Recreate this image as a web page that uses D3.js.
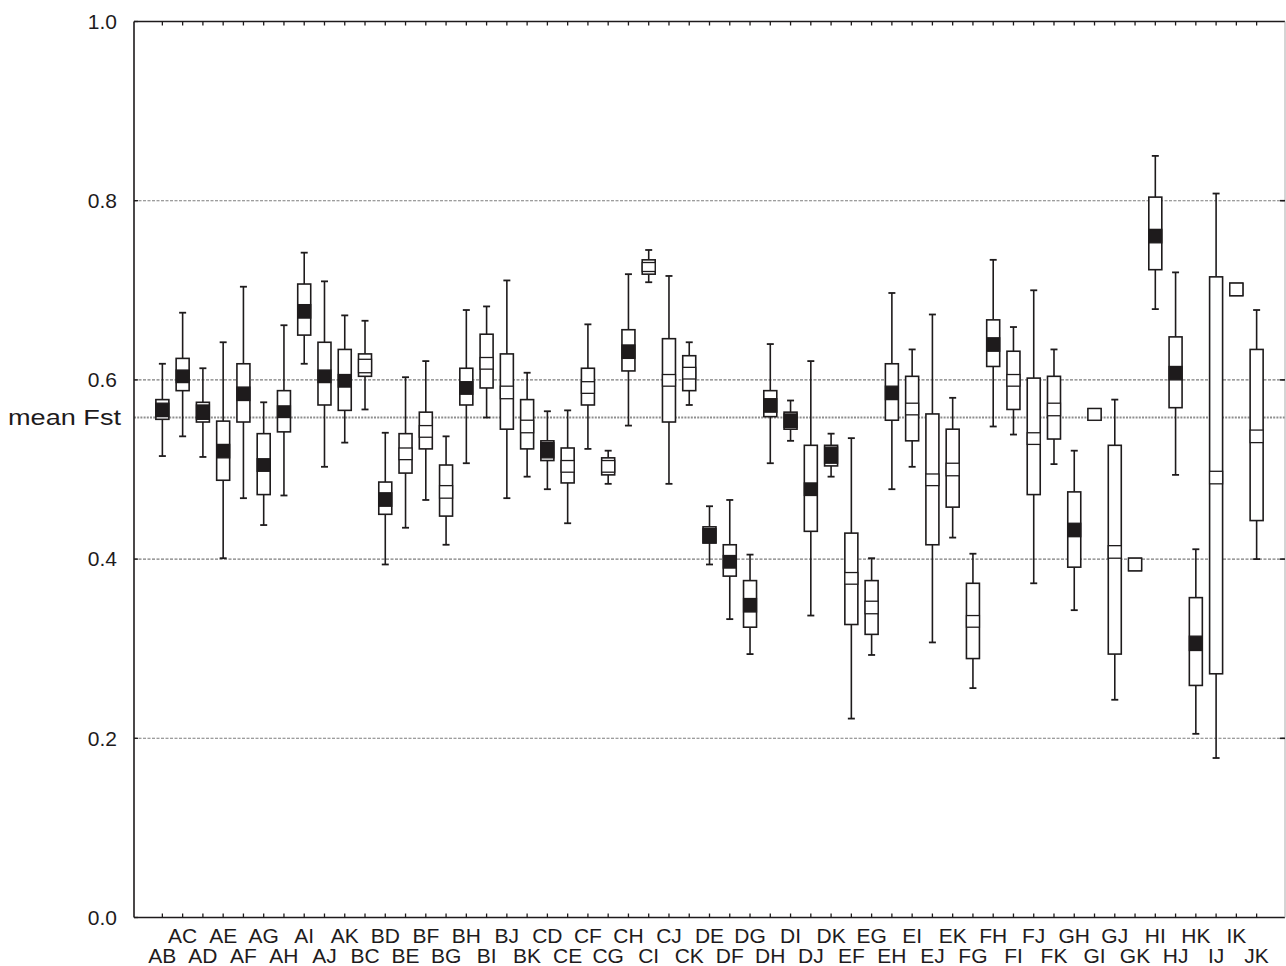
<!DOCTYPE html>
<html>
<head>
<meta charset="utf-8">
<script src="https://cdn.jsdelivr.net/npm/d3@7"></script>
<style>
  body { margin: 0; background: #fff; }
  svg { display: block; }
</style>
</head>
<body>
<script>
// pairwise comparisons of populations A..K
var pairs = ['AB','AC','AD','AE','AF','AG','AH','AI','AJ','AK',
             'BC','BD','BE','BF','BG','BH','BI','BJ','BK',
             'CD','CE','CF','CG','CH','CI','CJ','CK',
             'DE','DF','DG','DH','DI','DJ','DK',
             'EF','EG','EH','EI','EJ','EK',
             'FG','FH','FI','FJ','FK',
             'GH','GI','GJ','GK',
             'HI','HJ','HK',
             'IJ','IK',
             'JK'];

var whisker_high = [.618,.675,.613,.642,.704,.575,.661,.742,.710,.672,
                    .666,.541,.603,.621,.537,.678,.682,.711,.608,
                    .565,.566,.662,.521,.718,.745,.716,.642,
                    .459,.466,.405,.640,.577,.621,.540,
                    .535,.401,.697,.634,.673,.580,
                    .406,.734,.659,.700,.634,
                    .521,.568,.578,.401,
                    .850,.720,.411,
                    .808,.708,
                    .678];
var box_high = [.578,.624,.575,.554,.618,.540,.588,.707,.642,.634,
                .629,.486,.540,.564,.505,.613,.651,.629,.578,
                .532,.524,.613,.513,.656,.734,.646,.627,
                .436,.416,.376,.588,.564,.527,.527,
                .429,.376,.618,.604,.562,.545,
                .373,.667,.632,.602,.604,
                .475,.568,.527,.401,
                .804,.648,.357,
                .715,.708,
                .634];
var inner_high = [.574,.611,.572,.528,.592,.512,.571,.684,.611,.606,
                  .623,.474,.524,.549,.482,.598,.625,.593,.555,
                  .530,.510,.598,.510,.639,.731,.606,.614,
                  .434,.404,.356,.579,.562,.485,.525,
                  .385,.353,.593,.574,.495,.507,
                  .337,.647,.606,.541,.574,
                  .440,.568,.415,.401,
                  .768,.615,.314,
                  .498,.708,
                  .544];
var inner_low = [.559,.597,.556,.513,.577,.498,.558,.669,.597,.592,
                 .608,.459,.511,.536,.468,.584,.612,.579,.541,
                 .513,.497,.585,.497,.624,.721,.593,.601,
                 .418,.390,.341,.564,.547,.471,.507,
                 .372,.339,.578,.561,.482,.493,
                 .324,.632,.593,.528,.560,
                 .425,.555,.401,.387,
                 .753,.600,.298,
                 .484,.694,
                 .530];
var box_low = [.556,.588,.553,.488,.553,.472,.542,.650,.572,.566,
               .604,.450,.496,.523,.448,.572,.591,.545,.523,
               .510,.485,.572,.494,.610,.718,.553,.588,
               .418,.381,.324,.559,.545,.431,.504,
               .327,.316,.555,.532,.416,.458,
               .289,.615,.567,.472,.534,
               .391,.555,.294,.387,
               .723,.569,.259,
               .272,.694,
               .443];
var whisker_low = [.515,.537,.514,.401,.468,.438,.471,.618,.503,.530,
                   .567,.394,.435,.466,.416,.507,.558,.468,.492,
                   .478,.440,.523,.484,.549,.709,.484,.572,
                   .394,.333,.294,.507,.532,.337,.492,
                   .222,.293,.478,.503,.307,.424,
                   .256,.548,.539,.373,.506,
                   .343,.555,.243,.387,
                   .679,.494,.205,
                   .178,.694,
                   .400];
// 1 = inner band drawn solid black
var inner_filled = [1,1,1,1,1,1,1,1,1,1,
                    0,1,0,0,0,1,0,0,0,
                    1,0,0,0,1,0,0,0,
                    1,1,1,1,1,1,1,
                    0,0,1,0,0,0,
                    0,1,0,0,0,
                    1,0,0,0,
                    1,1,1,
                    0,0,
                    0];

var y_ticks = [0, 0.2, 0.4, 0.6, 0.8, 1.0];
var grid_values = [0.2, 0.4, 0.6, 0.8];
var mean_fst = 0.558;

var width = 1286, height = 966;
var plot = { left: 134, right: 1285, top: 21.5, bottom: 917.5 };
var box_width = 13;
var cap_width = 7;
var ink = '#1e1b1c';

var rows = pairs.map(function(p, i) {
    return {
        pair: p,
        wh: whisker_high[i], bh: box_high[i], ih: inner_high[i],
        il: inner_low[i], bl: box_low[i], wl: whisker_low[i],
        filled: inner_filled[i] === 1
    };
});

var svg = d3.select('body')
    .append('svg')
    .attr('width', width)
    .attr('height', height)
    .style('font-family', '"Liberation Sans", Arial, sans-serif');

var x = d3.scalePoint()
    .domain(pairs)
    .range([plot.left, plot.right])
    .padding(1.4);

var y = d3.scaleLinear()
    .domain([0, 1])
    .range([plot.bottom, plot.top]);

// grid lines
svg.append('g')
    .selectAll('line')
    .data(grid_values)
    .enter()
    .append('line')
    .attr('x1', plot.left)
    .attr('x2', plot.right)
    .attr('y1', function(d) { return y(d); })
    .attr('y2', function(d) { return y(d); })
    .attr('stroke', '#7d7d7d')
    .attr('stroke-width', 1.1)
    .attr('stroke-dasharray', '3,1.5');

svg.append('line')
    .attr('x1', plot.left)
    .attr('x2', plot.right)
    .attr('y1', y(mean_fst))
    .attr('y2', y(mean_fst))
    .attr('stroke', '#8f8f8f')
    .attr('stroke-width', 2)
    .attr('stroke-dasharray', '2,1.2');

// boxes
var boxes = svg.append('g')
    .selectAll('g')
    .data(rows)
    .enter()
    .append('g')
    .attr('transform', function(d) { return `translate(${x(d.pair)},0)`; });

boxes.filter(function(d) { return d.wh > d.bh; })
    .append('line')
    .attr('x1', 0).attr('x2', 0)
    .attr('y1', function(d) { return y(d.wh); })
    .attr('y2', function(d) { return y(d.bh); })
    .attr('stroke', ink).attr('stroke-width', 1.6);

boxes.filter(function(d) { return d.wh > d.bh; })
    .append('line')
    .attr('x1', -cap_width / 2).attr('x2', cap_width / 2)
    .attr('y1', function(d) { return y(d.wh); })
    .attr('y2', function(d) { return y(d.wh); })
    .attr('stroke', ink).attr('stroke-width', 1.8);

boxes.filter(function(d) { return d.wl < d.bl; })
    .append('line')
    .attr('x1', 0).attr('x2', 0)
    .attr('y1', function(d) { return y(d.bl); })
    .attr('y2', function(d) { return y(d.wl); })
    .attr('stroke', ink).attr('stroke-width', 1.6);

boxes.filter(function(d) { return d.wl < d.bl; })
    .append('line')
    .attr('x1', -cap_width / 2).attr('x2', cap_width / 2)
    .attr('y1', function(d) { return y(d.wl); })
    .attr('y2', function(d) { return y(d.wl); })
    .attr('stroke', ink).attr('stroke-width', 1.8);

boxes.append('rect')
    .attr('x', -box_width / 2)
    .attr('width', box_width)
    .attr('y', function(d) { return y(d.bh); })
    .attr('height', function(d) { return y(d.bl) - y(d.bh); })
    .attr('fill', '#fff')
    .attr('stroke', ink)
    .attr('stroke-width', 1.6);

boxes.append('rect')
    .attr('x', -box_width / 2)
    .attr('width', box_width)
    .attr('y', function(d) { return y(d.ih); })
    .attr('height', function(d) { return y(d.il) - y(d.ih); })
    .attr('fill', function(d) { return d.filled ? ink : '#fff'; })
    .attr('stroke', ink)
    .attr('stroke-width', 1.3);

// frame
var frame = svg.append('g')
    .attr('stroke', ink)
    .attr('stroke-width', 1.6)
    .attr('fill', 'none');

frame.append('line').attr('x1', plot.left).attr('x2', plot.left)
    .attr('y1', plot.top).attr('y2', plot.bottom);
frame.append('line').attr('x1', plot.left).attr('x2', plot.right)
    .attr('y1', plot.bottom).attr('y2', plot.bottom);
frame.append('line').attr('x1', plot.left).attr('x2', plot.right)
    .attr('y1', plot.top).attr('y2', plot.top);
frame.append('line').attr('x1', plot.right).attr('x2', plot.right)
    .attr('y1', plot.top).attr('y2', plot.bottom)
    .attr('stroke', '#aaa').attr('stroke-width', 1);

// category ticks, bottom and top
frame.selectAll('.tick_b')
    .data(pairs)
    .enter()
    .append('line')
    .attr('x1', function(d) { return x(d); })
    .attr('x2', function(d) { return x(d); })
    .attr('y1', plot.bottom)
    .attr('y2', plot.bottom - 4)
    .attr('stroke-width', 1.3);

frame.selectAll('.tick_t')
    .data(pairs)
    .enter()
    .append('line')
    .attr('x1', function(d) { return x(d); })
    .attr('x2', function(d) { return x(d); })
    .attr('y1', plot.top)
    .attr('y2', plot.top + 4)
    .attr('stroke-width', 1.3);

// y ticks
frame.selectAll('.tick_l')
    .data(y_ticks)
    .enter()
    .append('line')
    .attr('x1', plot.left)
    .attr('x2', plot.left + 4)
    .attr('y1', function(d) { return y(d); })
    .attr('y2', function(d) { return y(d); })
    .attr('stroke-width', 1.3);

frame.selectAll('.tick_r')
    .data(grid_values)
    .enter()
    .append('line')
    .attr('x1', plot.right)
    .attr('x2', plot.right - 5)
    .attr('y1', function(d) { return y(d); })
    .attr('y2', function(d) { return y(d); })
    .attr('stroke-width', 1.6);

// y labels
svg.append('g')
    .selectAll('text')
    .data(y_ticks)
    .enter()
    .append('text')
    .attr('x', 117)
    .attr('y', function(d) { return y(d); })
    .attr('dy', '0.35em')
    .attr('text-anchor', 'end')
    .style('font-size', '21px')
    .attr('fill', ink)
    .text(function(d) { return d3.format('.1f')(d); });

svg.append('text')
    .attr('x', 8)
    .attr('y', y(mean_fst))
    .attr('dy', '0.35em')
    .attr('textLength', 113)
    .attr('lengthAdjust', 'spacingAndGlyphs')
    .style('font-size', '22px')
    .attr('fill', ink)
    .text('mean Fst');

// category labels in two staggered rows
svg.append('g')
    .selectAll('text')
    .data(pairs)
    .enter()
    .append('text')
    .attr('x', function(d) { return x(d); })
    .attr('y', function(d, i) { return i % 2 === 1 ? 943 : 963; })
    .attr('text-anchor', 'middle')
    .style('font-size', '21px')
    .attr('fill', ink)
    .text(function(d) { return d; });
</script>
</body>
</html>
